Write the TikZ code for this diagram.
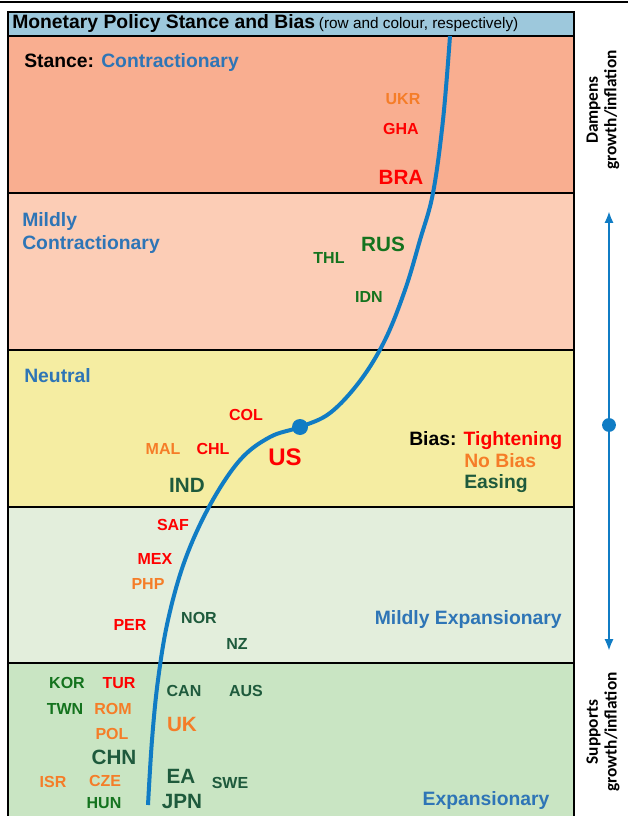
\documentclass[tikz,border=0pt]{standalone}
\usepackage{fontspec}
\setmainfont{Liberation Sans}
\newfontfamily\sidefont{Carlito}
\usetikzlibrary{arrows.meta}

\definecolor{stanceblue}{RGB}{46,117,182}
\definecolor{curveblue}{RGB}{16,124,196}
\definecolor{headblue}{RGB}{157,200,220}
\definecolor{rowA}{RGB}{249,174,144}
\definecolor{rowB}{RGB}{252,205,182}
\definecolor{rowC}{RGB}{245,237,162}
\definecolor{rowD}{RGB}{227,238,220}
\definecolor{rowE}{RGB}{201,229,195}
\definecolor{tightred}{RGB}{255,0,0}
\definecolor{nobiasorange}{RGB}{245,125,40}
\definecolor{easegreen}{RGB}{30,90,60}
\definecolor{greenbright}{RGB}{20,115,30}

\begin{document}
\begin{tikzpicture}[x=0.75pt, y=-0.75pt,
	ctry/.style={inner sep=0pt, font=\fontsize{12}{14}\selectfont\bfseries},
	bigctry/.style={inner sep=0pt, font=\fontsize{15.5}{18}\selectfont\bfseries},
	tight/.style={text=tightred},
	nobias/.style={text=nobiasorange},
	ease/.style={text=easegreen},
	easebright/.style={text=greenbright},
	stance/.style={inner sep=0pt, text=stanceblue, font=\fontsize{14.5}{17.25}\selectfont\bfseries},
	sidelabel/.style={inner sep=0pt, rotate=90, align=center, font=\sidefont\fontsize{13}{14}\selectfont\bfseries},
	frame/.style={line width=1.5pt}]
	\useasboundingbox (0,0) rectangle (628,816);
	% rows of the stance
	\foreach \ytop/\ybot/\rowcol in {36/193/rowA, 193/350/rowB, 350/507/rowC, 507/663/rowD, 663/816/rowE}
		\fill[\rowcol] (8,\ytop) rectangle (574,\ybot);
	\filldraw[fill=headblue, frame] (8,12) rectangle (574,36);
	\draw[line width=2.2pt] (0,2) -- (628,2);
	\foreach \yline in {193,350,507,663}
		\draw[frame] (8,\yline) -- (574,\yline);
	\draw[frame] (8,12) -- (8,816);
	\draw[frame] (574,12) -- (574,816);
	\node[anchor=west, inner sep=0pt] (title) at (12,24) {{\fontsize{14.5}{17}\selectfont\bfseries Monetary Policy Stance and Bias} {\fontsize{11.5}{13}\selectfont (row and colour, respectively)}};

	% curve
	\draw[curveblue, line width=3pt] plot[smooth, tension=0.6] coordinates {(148,805) (152,740) (158,680) (168,620) (185,560) (210,505) (240,460) (270,437) (300,427) (330,413) (360,381) (385,340) (405,290) (420,240) (433,193) (443,120) (450,36)};
	\fill[curveblue] (300,427) circle (6pt);

	% stance labels
	\node[stance, anchor=base west] (contr) at (24,68) {\textcolor{black}{Stance:} Contractionary};
	\node[stance, anchor=base west, align=left] (mcontr) at (22,250) {Mildly\\Contractionary};
	\node[stance, anchor=base west] (neutral) at (24,382) {Neutral};
	\node[stance, anchor=base east] (mexp) at (562,624) {Mildly Expansionary};
	\node[stance, anchor=base] (exp) at (486,805) {Expansionary};

	% bias legend
	\node[stance, anchor=base west, text=black] (bias) at (409,445) {Bias: \textcolor{tightred}{Tightening}};
	\node[stance, anchor=base west, nobias] (nob) at (464,467) {No Bias};
	\node[stance, anchor=base west, ease] (easing) at (464,488) {Easing};

	% countries
	\node[ctry, nobias] (ukr) at (403,99) {UKR};
	\node[ctry, tight] (gha) at (401,129) {GHA};
	\node[bigctry, tight] (bra) at (401,177) {BRA};
	\node[bigctry, easebright] (rus) at (383,244) {RUS};
	\node[ctry, easebright] (thl) at (329,258) {THL};
	\node[ctry, easebright] (idn) at (369,297) {IDN};
	\node[ctry, tight] (col) at (246,415) {COL};
	\node[ctry, nobias] (mal) at (163,449) {MAL};
	\node[ctry, tight] (chl) at (213,449) {CHL};
	\node[bigctry, tight, font=\fontsize{18}{20}\selectfont\bfseries] (us) at (285,457) {US};
	\node[bigctry, ease] (ind) at (187,485) {IND};
	\node[ctry, tight] (saf) at (173,525) {SAF};
	\node[ctry, tight] (mex) at (155,559) {MEX};
	\node[ctry, nobias] (php) at (148,584) {PHP};
	\node[ctry, tight] (per) at (130,625) {PER};
	\node[ctry, ease] (nor) at (199,618) {NOR};
	\node[ctry, ease] (nz) at (237,644) {NZ};
	\node[ctry, easebright] (kor) at (67,683) {KOR};
	\node[ctry, tight] (tur) at (119,683) {TUR};
	\node[ctry, ease] (can) at (184,691) {CAN};
	\node[ctry, ease] (aus) at (246,691) {AUS};
	\node[ctry, easebright] (twn) at (65,709) {TWN};
	\node[ctry, nobias] (rom) at (113,709) {ROM};
	\node[bigctry, nobias] (uk) at (182,724) {UK};
	\node[ctry, nobias] (pol) at (112,734) {POL};
	\node[bigctry, ease] (chn) at (114,757) {CHN};
	\node[ctry, nobias] (isr) at (53,782) {ISR};
	\node[ctry, nobias] (cze) at (105,781) {CZE};
	\node[bigctry, ease] (ea) at (181,776) {EA};
	\node[ctry, ease] (swe) at (230,783) {SWE};
	\node[ctry, easebright] (hun) at (104,803) {HUN};
	\node[bigctry, ease] (jpn) at (182,801) {JPN};

	% side scale
	\node[sidelabel] (dampens) at (603,110) {Dampens\\growth/inflation};
	\node[sidelabel] (supports) at (603,732) {Supports\\growth/inflation};
	\coordinate (scaletop) at (609,211);
	\coordinate (scalemid) at (609,425);
	\coordinate (scalebot) at (609,651);
	\draw[curveblue, line width=2.2pt, {Latex[length=9pt,width=7pt]}-{Latex[length=9pt,width=7pt]}] (scaletop) -- (scalebot);
	\fill[curveblue] (scalemid) circle (5.2pt);
\end{tikzpicture}
\end{document}
